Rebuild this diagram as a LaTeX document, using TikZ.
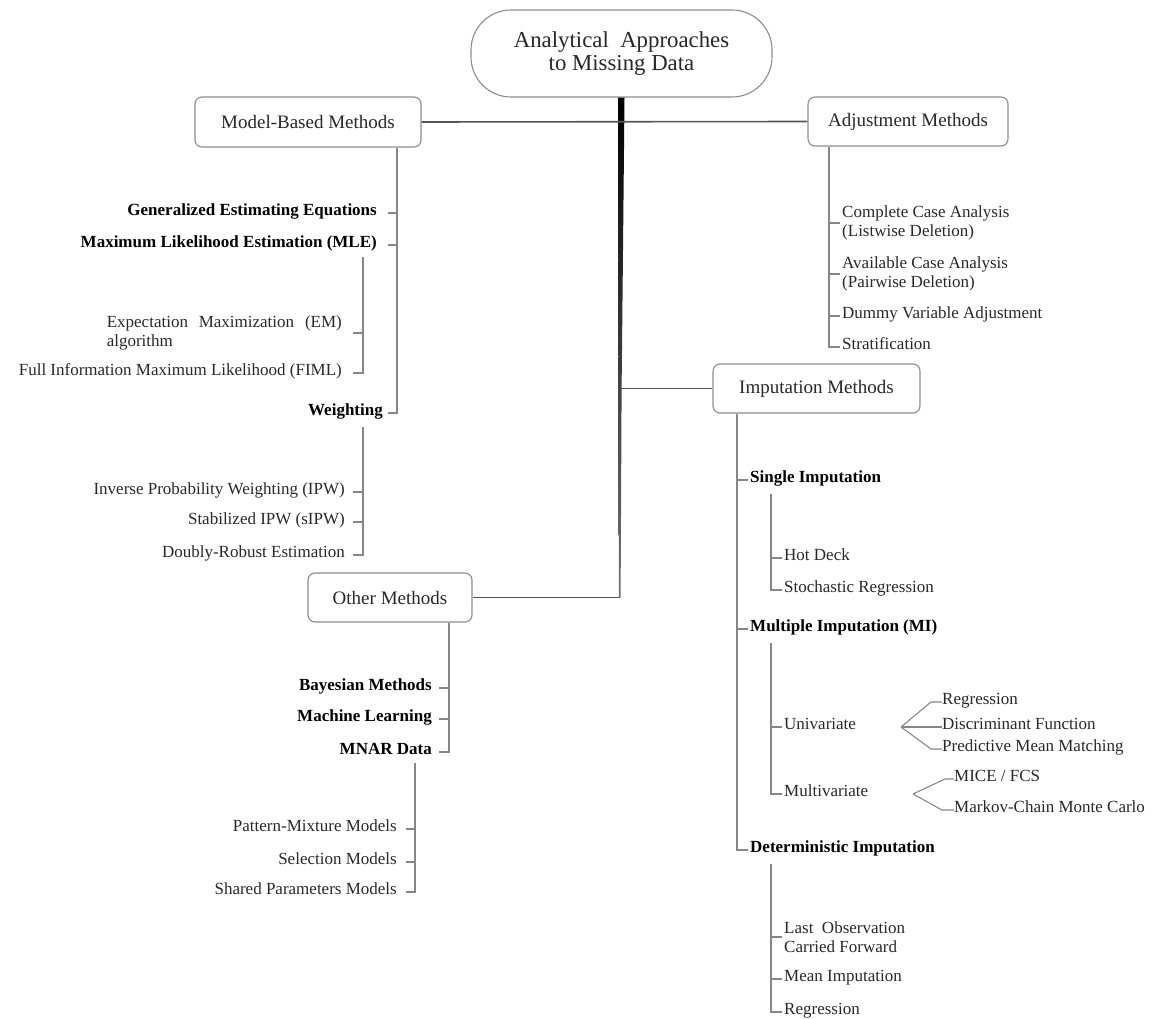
\documentclass[tikz,border=0pt]{standalone}
\usepackage{fontspec}
\setmainfont{Liberation Serif}
\usetikzlibrary{calc}
\definecolor{linegray}{RGB}{135,135,135}
\definecolor{boxgray}{RGB}{140,140,140}
\definecolor{brgray}{RGB}{85,85,85}
\definecolor{txt}{RGB}{40,40,40}
\begin{document}
\begin{tikzpicture}[x=1pt,y=-1pt,
  ln/.style={draw=linegray,line width=1.1pt},
  br/.style={draw=brgray,line width=1.6pt},
  box/.style={draw=boxgray,line width=1.1pt,rounded corners=7pt,fill=white,
    font=\fontsize{19}{21}\selectfont,text=txt,inner sep=0pt},
  item/.style={inner sep=0pt,font=\fontsize{17}{19.5}\selectfont,text=txt,align=left},
  bitem/.style={inner sep=0pt,font=\fontsize{17}{19.5}\selectfont\bfseries,text=black},
]
\useasboundingbox (0,0) rectangle (1153,1019);

% ---------- boxes ----------
\node[box,rounded corners=40pt,minimum width=301pt,minimum height=87pt,
  font=\fontsize{22.8}{22.5}\selectfont,align=center] (root) at (621.5,53.5)
  {Analytical\ \ Approaches\\to Missing Data};
\node[box,minimum width=226pt,minimum height=50pt] (mbm) at (308,122) {Model-Based Methods};
\node[box,minimum width=200pt,minimum height=49pt] (adj) at (908,121.5) {Adjustment Methods};
\node[box,minimum width=207pt,minimum height=49pt] (imp) at (816.5,388.5) {Imputation Methods};
\node[box,minimum width=164pt,minimum height=49pt] (oth) at (390,597.5) {Other Methods};

% ---------- trunk ----------
\coordinate (tA) at (621,388.5);
\coordinate (tB) at (619.6,597.5);
\shade[top color=black,bottom color=black!55]
  ($(root.south)+(-3.5,0)$) -- ($(root.south)+(3,0)$) -- (622.5,300) -- (621.6,388.5)
  -- (620.6,597.5) -- (618.8,597.5) -- (618.6,388.5) -- (618.3,300) -- cycle;
\draw[br] (mbm.east) -- (adj.west);
\draw[br] (tA) -- (imp.west);
\draw[br] (tB) -- (oth.east);

% ---------- Model-Based ----------
\node[bitem,anchor=mid east] (gee) at (377,213) {Generalized Estimating Equations};
\node[bitem,anchor=mid east] (mle) at (377,245) {Maximum Likelihood Estimation (MLE)};
\node[bitem,anchor=mid east] (wgt) at (383,413) {Weighting};
\coordinate (mbx) at (397,0);
\coordinate (mbt) at (388,0);
\draw[ln] (mbm.south -| mbx) |- (wgt.mid east -| mbt);
\draw[ln] (gee.mid east -| mbt) -- (gee.mid east -| mbx);
\draw[ln] (mle.mid east -| mbt) -- (mle.mid east -| mbx);

\node[item,anchor=east,text width=235pt] (em) at (342,333) {Expectation\hfill Maximization\hfill (EM)\\algorithm};
\node[item,anchor=mid east] (fiml) at (342,373) {Full Information Maximum Likelihood (FIML)};
\coordinate (mlx) at (363,0);
\coordinate (mlt) at (353,0);
\draw[ln] ([yshift=-6pt]mle.south -| mlx) |- (fiml.mid east -| mlt);
\draw[ln] (em.east -| mlt) -- (em.east -| mlx);

\node[item,anchor=mid east] (ipw) at (345,492) {Inverse Probability Weighting (IPW)};
\node[item,anchor=mid east] (sipw) at (345,522) {Stabilized IPW (sIPW)};
\node[item,anchor=mid east] (dre) at (345,555) {Doubly-Robust Estimation};
\draw[ln] ([yshift=-8pt]wgt.south -| mlx) |- (dre.mid east -| mlt);
\draw[ln] (ipw.mid east -| mlt) -- (ipw.mid east -| mlx);
\draw[ln] (sipw.mid east -| mlt) -- (sipw.mid east -| mlx);

% ---------- Adjustment ----------
\node[item,anchor=west] (cca) at (842,223) {Complete Case Analysis\\(Listwise Deletion)};
\node[item,anchor=west] (aca) at (842,274) {Available Case Analysis\\(Pairwise Deletion)};
\node[item,anchor=mid west] (dva) at (842,316) {Dummy Variable Adjustment};
\node[item,anchor=mid west] (str) at (842,347) {Stratification};
\coordinate (adx) at (829,0);
\coordinate (adt) at (840,0);
\draw[ln] (adj.south -| adx) |- (str.mid west -| adt);
\draw[ln] (cca.west -| adx) -- (cca.west -| adt);
\draw[ln] (aca.west -| adx) -- (aca.west -| adt);
\draw[ln] (dva.mid west -| adx) -- (dva.mid west -| adt);

% ---------- Other ----------
\node[bitem,anchor=mid east] (bay) at (432,688) {Bayesian Methods};
\node[bitem,anchor=mid east] (mlr) at (432,719) {Machine Learning};
\node[bitem,anchor=mid east] (mnar) at (432,752) {MNAR Data};
\coordinate (otx) at (449,0);
\coordinate (ott) at (439,0);
\draw[ln] (oth.south -| otx) |- (mnar.mid east -| ott);
\draw[ln] (bay.mid east -| ott) -- (bay.mid east -| otx);
\draw[ln] (mlr.mid east -| ott) -- (mlr.mid east -| otx);

\node[item,anchor=mid east] (pmx) at (397,829) {Pattern-Mixture Models};
\node[item,anchor=mid east] (sel) at (397,862) {Selection Models};
\node[item,anchor=mid east] (spm) at (397,892) {Shared Parameters Models};
\coordinate (mnx) at (415,0);
\coordinate (mnt) at (406,0);
\draw[ln] ([yshift=-8pt]mnar.south -| mnx) |- (spm.mid east -| mnt);
\draw[ln] (pmx.mid east -| mnt) -- (pmx.mid east -| mnx);
\draw[ln] (sel.mid east -| mnt) -- (sel.mid east -| mnx);

% ---------- Imputation ----------
\node[bitem,anchor=mid west] (si) at (750,480) {Single Imputation};
\node[bitem,anchor=mid west] (mi) at (750,629) {Multiple Imputation (MI)};
\node[bitem,anchor=mid west] (di) at (750,850) {Deterministic Imputation};
\coordinate (imx) at (737,0);
\coordinate (imt) at (748,0);
\draw[ln] (imp.south -| imx) |- (di.mid west -| imt);
\draw[ln] (si.mid west -| imx) -- (si.mid west -| imt);
\draw[ln] (mi.mid west -| imx) -- (mi.mid west -| imt);

\coordinate (sbx) at (771,0);
\coordinate (sbt) at (782,0);
\node[item,anchor=mid west] (hd) at (784,558) {Hot Deck};
\node[item,anchor=mid west] (sr) at (784,590) {Stochastic Regression};
\draw[ln] ([yshift=-8pt]si.south -| sbx) |- (sr.mid west -| sbt);
\draw[ln] (hd.mid west -| sbx) -- (hd.mid west -| sbt);

\node[item,anchor=mid west] (uni) at (784,727) {Univariate};
\node[item,anchor=mid west] (mul) at (784,794) {Multivariate};
\draw[ln] ([yshift=-8pt]mi.south -| sbx) |- (mul.mid west -| sbt);
\draw[ln] (uni.mid west -| sbx) -- (uni.mid west -| sbt);

\node[item,anchor=mid west] (rg1) at (942,702) {Regression};
\node[item,anchor=mid west] (dfn) at (942,727) {Discriminant Function};
\node[item,anchor=mid west] (pmm) at (942,749) {Predictive Mean Matching};
\coordinate (uf) at (901,727);
\draw[ln] (uf) -- (931,702) -- (rg1.mid west);
\draw[ln] (uf) -- (dfn.mid west);
\draw[ln] (uf) -- (931,749) -- (pmm.mid west);

\node[item,anchor=mid west] (mice) at (954,779) {MICE / FCS};
\node[item,anchor=mid west] (mcmc) at (954,810) {Markov-Chain Monte Carlo};
\coordinate (mf) at (913,794);
\draw[ln] (mf) -- (945,779) -- (mice.mid west);
\draw[ln] (mf) -- (942,810) -- (mcmc.mid west);

\node[item,anchor=west] (locf) at (784,937) {Last\ \ Observation\\Carried Forward};
\node[item,anchor=mid west] (mean) at (784,979) {Mean Imputation};
\node[item,anchor=mid west] (rg2) at (784,1012) {Regression};
\draw[ln] ([yshift=-8pt]di.south -| sbx) |- (rg2.mid west -| sbt);
\draw[ln] (locf.west -| sbx) -- (locf.west -| sbt);
\draw[ln] (mean.mid west -| sbx) -- (mean.mid west -| sbt);
\end{tikzpicture}
\end{document}
